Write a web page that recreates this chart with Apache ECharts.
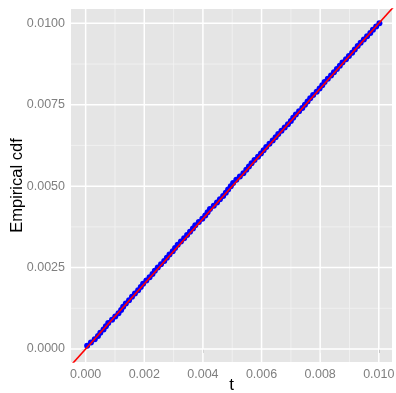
<!DOCTYPE html>
<html>
<head>
<meta charset="utf-8">
<script src="https://cdn.jsdelivr.net/npm/echarts@6/dist/echarts.min.js"></script>
<style>
  html, body { margin: 0; padding: 0; background: #fff; }
  #chart { width: 396px; height: 393px; }
</style>
</head>
<body>
<div id="chart"></div>
<script>
// sample values (t) and their empirical cdf
const tValues = [
  0.00005, 0.00018, 0.00031, 0.00042, 0.00050, 0.00061, 0.00069, 0.00077, 0.00090, 0.00101,
  0.00112, 0.00121, 0.00128, 0.00137, 0.00148, 0.00158, 0.00168, 0.00179, 0.00188, 0.00196,
  0.00207, 0.00218, 0.00228, 0.00236, 0.00246, 0.00257, 0.00268, 0.00277, 0.00286, 0.00297,
  0.00305, 0.00314, 0.00325, 0.00336, 0.00346, 0.00356, 0.00366, 0.00374, 0.00386, 0.00398,
  0.00408, 0.00416, 0.00424, 0.00437, 0.00448, 0.00458, 0.00469, 0.00478, 0.00486, 0.00495,
  0.00503, 0.00514, 0.00526, 0.00538, 0.00548, 0.00557, 0.00566, 0.00576, 0.00588, 0.00598,
  0.00607, 0.00616, 0.00627, 0.00638, 0.00648, 0.00657, 0.00668, 0.00679, 0.00690, 0.00700,
  0.00708, 0.00717, 0.00728, 0.00739, 0.00748, 0.00757, 0.00766, 0.00776, 0.00788, 0.00798,
  0.00807, 0.00815, 0.00826, 0.00837, 0.00847, 0.00857, 0.00867, 0.00876, 0.00888, 0.00898,
  0.00909, 0.00918, 0.00928, 0.00938, 0.00949, 0.00960, 0.00971, 0.00980, 0.00991, 0.01002
];
const cdfValues = [
  0.0001, 0.0002, 0.0003, 0.0004, 0.0005, 0.0006, 0.0007, 0.0008, 0.0009, 0.0010,
  0.0011, 0.0012, 0.0013, 0.0014, 0.0015, 0.0016, 0.0017, 0.0018, 0.0019, 0.0020,
  0.0021, 0.0022, 0.0023, 0.0024, 0.0025, 0.0026, 0.0027, 0.0028, 0.0029, 0.0030,
  0.0031, 0.0032, 0.0033, 0.0034, 0.0035, 0.0036, 0.0037, 0.0038, 0.0039, 0.0040,
  0.0041, 0.0042, 0.0043, 0.0044, 0.0045, 0.0046, 0.0047, 0.0048, 0.0049, 0.0050,
  0.0051, 0.0052, 0.0053, 0.0054, 0.0055, 0.0056, 0.0057, 0.0058, 0.0059, 0.0060,
  0.0061, 0.0062, 0.0063, 0.0064, 0.0065, 0.0066, 0.0067, 0.0068, 0.0069, 0.0070,
  0.0071, 0.0072, 0.0073, 0.0074, 0.0075, 0.0076, 0.0077, 0.0078, 0.0079, 0.0080,
  0.0081, 0.0082, 0.0083, 0.0084, 0.0085, 0.0086, 0.0087, 0.0088, 0.0089, 0.0090,
  0.0091, 0.0092, 0.0093, 0.0094, 0.0095, 0.0096, 0.0097, 0.0098, 0.0099, 0.0100
];
// reference line y = x (endpoints beyond the panel, clipped)
const refLine = [[-0.001, -0.001], [0.011, 0.011]];

const xRange = [-0.0005, 0.01045];
const yRange = [-0.0004, 0.01044];
const xTicks = [0, 0.002, 0.004, 0.006, 0.008, 0.010];
const xMinor = [0.001, 0.003, 0.005, 0.007, 0.009];
const yTicks = [0, 0.0025, 0.005, 0.0075, 0.01];
const yMinor = [0.00125, 0.00375, 0.00625, 0.00875];

const grey = '#7f7f7f';
const font = 'Liberation Sans, Arial, sans-serif';

const points = tValues.map((t, i) => [t, cdfValues[i]]);

// grid line rows: [axis, value, major?]
const gridRows = [].concat(
  xMinor.map(v => ['x', v, 0]),
  yMinor.map(v => ['y', v, 0]),
  xTicks.map(v => ['x', v, 1]),
  yTicks.map(v => ['y', v, 1])
);

function renderGridLine(params, api) {
  const axis = gridRows[params.dataIndex][0];
  const v = api.value(1);
  const major = api.value(2) === 1;
  let a, b;
  if (axis === 'x') {
    a = api.coord([v, yRange[0]]);
    b = api.coord([v, yRange[1]]);
  } else {
    a = api.coord([xRange[0], v]);
    b = api.coord([xRange[1], v]);
  }
  return {
    type: 'line',
    shape: { x1: a[0], y1: a[1], x2: b[0], y2: b[1] },
    style: { stroke: major ? '#ffffff' : '#f2f2f2', lineWidth: major ? 1.5 : 0.8 },
    silent: true
  };
}

const chart = echarts.init(document.getElementById('chart'));

const option = {
  animation: false,
  textStyle: { fontFamily: font },
  grid: {
    left: 71, right: 4, top: 9, bottom: 31,
    outerBoundsMode: 'none',
    containLabel: false,
    show: true,
    backgroundColor: '#e5e5e5',
    borderWidth: 0
  },
  xAxis: {
    type: 'value',
    min: xRange[0],
    max: xRange[1],
    name: 't',
    nameLocation: 'middle',
    nameGap: 15,
    nameMoveOverlap: false,
    nameTextStyle: { color: '#000', fontSize: 17, fontFamily: font, verticalAlign: 'top' },
    axisLine: { show: false },
    splitLine: { show: false },
    axisTick: { show: true, length: 4, customValues: xTicks, lineStyle: { color: grey } },
    axisLabel: {
      customValues: xTicks,
      color: grey, fontSize: 12.5, margin: 6, fontFamily: font,
      formatter: v => v.toFixed(3)
    }
  },
  yAxis: {
    type: 'value',
    min: yRange[0],
    max: yRange[1],
    name: 'Empirical cdf',
    nameLocation: 'middle',
    nameGap: 45,
    nameMoveOverlap: false,
    nameTextStyle: { color: '#000', fontSize: 16.5, fontFamily: font },
    axisLine: { show: false },
    splitLine: { show: false },
    axisTick: { show: true, length: 4, customValues: yTicks, lineStyle: { color: grey } },
    axisLabel: {
      customValues: yTicks,
      color: grey, fontSize: 12.5, margin: 6, fontFamily: font,
      formatter: v => v.toFixed(4)
    }
  },
  series: [
    {
      type: 'custom',
      renderItem: renderGridLine,
      data: gridRows.map((r, i) => [i, r[1], r[2]]),
      encode: { x: -1, y: -1 },
      silent: true,
      clip: true,
      z: 1
    },
    {
      type: 'scatter',
      data: points,
      symbolSize: 6,
      itemStyle: { color: '#0000ff', opacity: 1 },
      z: 2
    },
    {
      type: 'line',
      data: refLine,
      showSymbol: false,
      clip: true,
      lineStyle: { color: '#ff0000', width: 1.6 },
      z: 3
    }
  ]
};

chart.setOption(option);
</script>
</body>
</html>
